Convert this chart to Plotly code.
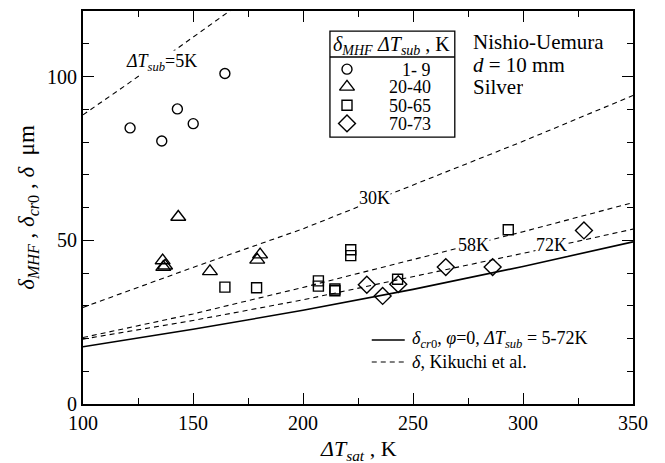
import plotly.graph_objects as go

# ---------------- data ----------------
circ_x = [121.4, 135.8, 142.9, 150.1, 164.5]
circ_y = [84.3, 80.3, 90.1, 85.6, 100.9]
tri_x = [136.2, 137.3, 136.5, 143.3, 157.7, 180.5, 179.2]
tri_y = [43.8, 42.2, 41.8, 57.1, 40.5, 45.6, 44.0]
sq_x = [164.5, 178.9, 207.0, 207.0, 214.5, 214.5, 221.7, 221.7, 243.0, 293.3]
sq_y = [35.7, 35.5, 37.6, 36.0, 35.1, 34.6, 47.1, 45.3, 38.1, 53.2]
dia_x = [229.0, 236.2, 243.3, 264.9, 286.2, 327.7]
dia_y = [36.4, 33.0, 36.6, 41.8, 41.8, 53.0]

line_x = [100, 150, 200, 250, 300, 350]
cr0_y = [17.5, 22.8, 28.6, 35.0, 42.0, 49.5]
k30_y = [29.5, 41.7, 53.5, 66.9, 80.2, 94.2]
k58_y = [20.3, 27.5, 35.6, 44.0, 52.6, 61.5]
k72_y = [19.8, 25.5, 31.8, 38.8, 46.0, 53.4]
k5_x = [100, 120, 140, 160, 170]
k5_y = [88.3, 97.6, 107.2, 116.8, 121.6]

x_ticks = [100, 150, 200, 250, 300, 350]
y_ticks = [0, 50, 100]

legend_labels = ["1- 9", "20-40", "50-65", "70-73"]
legend_symbols = ["circle-open", "triangle-up-open", "square-open", "diamond-open"]
legend_sizes = [10, 13, 10, 13]

FONT = "Liberation Serif, Times New Roman, serif"
DASH = "5px,4px"

fig = go.Figure()

# Kikuchi et al. lines (dashed)
for ky in [k30_y, k58_y, k72_y]:
    fig.add_trace(go.Scatter(x=line_x, y=ky, mode="lines",
                             line=dict(color="black", width=1.1, dash=DASH),
                             showlegend=False, hoverinfo="skip"))
fig.add_trace(go.Scatter(x=k5_x, y=k5_y, mode="lines",
                         line=dict(color="black", width=1.1, dash=DASH),
                         showlegend=False, hoverinfo="skip"))
# delta_cr0 (solid)
fig.add_trace(go.Scatter(x=line_x, y=cr0_y, mode="lines",
                         line=dict(color="black", width=1.6),
                         showlegend=False))

mk = dict(color="black", line=dict(color="black", width=1.4))
fig.add_trace(go.Scatter(x=circ_x, y=circ_y, mode="markers",
                         marker=dict(symbol="circle-open", size=10, **mk), showlegend=False))
fig.add_trace(go.Scatter(x=tri_x, y=tri_y, mode="markers",
                         marker=dict(symbol="triangle-up-open", size=13, **mk), showlegend=False))
fig.add_trace(go.Scatter(x=sq_x, y=sq_y, mode="markers",
                         marker=dict(symbol="square-open", size=10, **mk), showlegend=False))
fig.add_trace(go.Scatter(x=dia_x, y=dia_y, mode="markers",
                         marker=dict(symbol="diamond-open", size=13, **mk), showlegend=False))

# legend key markers on an overlay axis spanning the plot area [0,1]
key_x = 0.48
key_y = [0.852, 0.807, 0.760, 0.714]
for s, sz, yy in zip(legend_symbols, legend_sizes, key_y):
    fig.add_trace(go.Scatter(x=[key_x], y=[yy], mode="markers", xaxis="x2", yaxis="y2",
                             marker=dict(symbol=s, size=sz, **mk), showlegend=False))

annotations = []
for lab, yy in zip(legend_labels, key_y):
    annotations.append(dict(xref="paper", yref="paper", x=0.636, y=yy, xanchor="right",
                            yanchor="middle", text=lab, showarrow=False, height=17,
                            font=dict(family=FONT, size=18, color="black")))
annotations.append(dict(xref="paper", yref="paper", x=0.451, y=0.912, xanchor="left",
                        yanchor="middle", text="<i>δ</i><sub><i>MHF</i></sub>", showarrow=False,
                        font=dict(family=FONT, size=20, color="black")))
annotations.append(dict(xref="paper", yref="paper", x=0.530, y=0.912, xanchor="left",
                        yanchor="middle", text="<i>ΔT</i><sub><i>sub</i></sub> , K", showarrow=False,
                        font=dict(family=FONT, size=20, color="black")))
for t, yy in zip(["Nishio-Uemura", "<i>d</i> = 10 mm", "Silver"], [0.921, 0.862, 0.806]):
    annotations.append(dict(xref="paper", yref="paper", x=0.705, y=yy, xanchor="left",
                            yanchor="middle", text=t, showarrow=False, height=20,
                            font=dict(family=FONT, size=21, color="black")))
for t, xx, yy in [("<i>ΔT</i><sub><i>sub</i></sub>=5K", 135.5, 104.4), ("30K", 232.7, 63.0),
                  ("58K", 277.3, 48.7), ("72K", 313.0, 48.7)]:
    annotations.append(dict(x=xx, y=yy, text=t, showarrow=False, bgcolor="white", borderpad=0,
                            font=dict(family=FONT, size=18, color="black")))
annotations.append(dict(xref="paper", yref="paper", x=0.595, y=0.163, xanchor="left",
                        yanchor="middle",
                        text="<i>δ</i><sub><i>cr</i>0</sub>, <i>φ</i>=0, <i>ΔT</i><sub><i>sub</i></sub> = 5-72K",
                        showarrow=False, font=dict(family=FONT, size=18, color="black")))
annotations.append(dict(xref="paper", yref="paper", x=0.595, y=0.107, xanchor="left",
                        yanchor="middle", text="<i>δ</i>, Kikuchi et al.",
                        showarrow=False, font=dict(family=FONT, size=18, color="black")))
# x-axis title
annotations.append(dict(xref="paper", yref="paper", x=0.5, y=-0.117, xanchor="center",
                        yanchor="middle", text="<i>ΔT</i><sub><i>sat</i></sub> , K",
                        showarrow=False, font=dict(family=FONT, size=22, color="black")))

shapes = [
    dict(type="rect", xref="paper", yref="paper", x0=0.449, x1=0.676, y0=0.679, y1=0.949,
         line=dict(color="black", width=1.3), fillcolor="rgba(0,0,0,0)"),
    dict(type="line", xref="paper", yref="paper", x0=0.449, x1=0.676, y0=0.883, y1=0.883,
         line=dict(color="black", width=1.3)),
    dict(type="line", xref="paper", yref="paper", x0=0.525, x1=0.585, y0=0.163, y1=0.163,
         line=dict(color="black", width=1.6)),
    dict(type="line", xref="paper", yref="paper", x0=0.525, x1=0.585, y0=0.107, y1=0.107,
         line=dict(color="black", width=1.1, dash=DASH)),
]

axis_common = dict(showgrid=False, zeroline=False, showline=True, linecolor="black",
                   linewidth=1.8, mirror="ticks", ticks="inside", ticklen=11, tickwidth=1.3,
                   tickcolor="black", automargin=False,
                   tickfont=dict(family=FONT, size=20, color="black"))

fig.update_layout(
    template="none",
    width=665, height=463,
    margin=dict(l=83, r=32, t=11, b=59, autoexpand=False),
    plot_bgcolor="white", paper_bgcolor="white",
    showlegend=False,
    font=dict(family=FONT, color="black"),
    xaxis=dict(range=[100, 350], tickvals=x_ticks,
               minor=dict(ticks="inside", ticklen=6, dtick=25, tick0=100, tickwidth=1.1,
                          tickcolor="black", showgrid=False),
               **axis_common),
    yaxis=dict(range=[0, 120], tickvals=y_ticks,
               minor=dict(ticks="inside", ticklen=6, dtick=10, tick0=0, tickwidth=1.1,
                          tickcolor="black", showgrid=False),
               title=dict(text="<i>δ</i><sub><i>MHF</i></sub> , <i>δ</i><sub><i>cr</i>0</sub> , <i>δ</i>  μm",
                          standoff=6, font=dict(family=FONT, size=23)),
               **axis_common),
    xaxis2=dict(overlaying="x", range=[0, 1], visible=False, anchor="y2"),
    yaxis2=dict(overlaying="y", range=[0, 1], visible=False, anchor="x2"),
    annotations=annotations,
    shapes=shapes,
)

fig.write_html("out.html",
               config={"displayModeBar": False},
               post_script="document.body.style.margin='0';document.body.style.padding='0';")
